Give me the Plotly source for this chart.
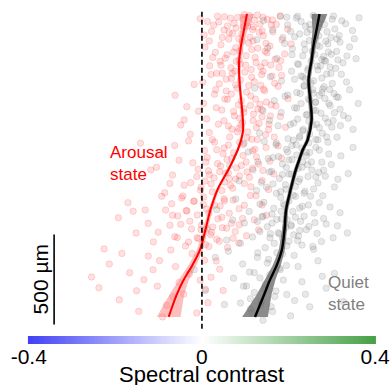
import numpy as np
import plotly.graph_objects as go

# ---------------- data ----------------
# scatter: (spectral contrast, depth in µm)
arousal_points = [
    (0.013, 41), (0.036, 12), (0.059, 66), (0.082, 19), (0.107, 47), (0.128, 6), (0.151, 29), (0.172, 58),
    (0.022, 97), (0.047, 131), (0.071, 109), (0.093, 152), (0.117, 86), (0.142, 121), (0.164, 99), (0.185, 143),
    (0.007, 184), (0.031, 213), (0.054, 246), (0.078, 187), (0.102, 232), (0.125, 269), (0.146, 207), (0.169, 252),
    (0.191, 222), (0.018, 288), (0.042, 263), (0.067, 299), (0.088, 278), (0.114, 309), (0.136, 294), (0.159, 283),
    (0.178, 297), (-0.004, 26), (0.044, 171), (0.079, 78), (0.098, 3), (0.115, 197), (0.148, 163), (0.062, 139),
    (0.027, 62), (0.134, 57), (0.086, 256), (0.121, 34), (0.066, 23), (0.157, 178), (0.005, 117), (0.198, 84),
    (0.051, 89), (0.206, 166), (0.092, 111), (0.111, 129), (0.139, 94), (0.073, 211), (0.025, 241), (0.163, 33),
    (0.181, 10), (0.105, 68), (0.039, 44),
    (-0.062, 452), (-0.041, 588), (-0.018, 391), (0.004, 497), (0.021, 336), (0.038, 612), (0.056, 428), (0.073, 541),
    (0.089, 367), (0.106, 655), (0.124, 473), (0.141, 318), (0.158, 566), (0.176, 402), (0.193, 629), (-0.027, 668),
    (0.011, 583), (0.029, 446), (0.047, 329), (0.064, 683), (0.081, 412), (0.097, 525), (0.115, 351), (0.132, 607),
    (0.149, 489), (0.167, 684), (0.184, 341), (-0.008, 540), (0.033, 521), (0.051, 593), (0.068, 358), (0.085, 636),
    (0.103, 434), (0.119, 556), (0.136, 396), (0.154, 642), (0.171, 511), (0.002, 379), (0.017, 659), (0.059, 474),
    (0.094, 603), (0.128, 697), (0.145, 426), (0.181, 570), (0.112, 508), (-0.049, 617), (0.076, 318), (0.040, 388),
    (0.199, 471), (0.162, 345), (0.087, 579), (0.024, 698), (0.138, 532), (-0.035, 515), (0.069, 640),
    (-0.142, 718), (-0.118, 866), (-0.097, 773), (-0.074, 941), (-0.053, 812), (-0.031, 705), (-0.012, 903), (0.006, 759),
    (0.024, 988), (0.043, 845), (0.061, 728), (0.078, 917), (0.095, 786), (0.113, 960), (0.131, 834), (0.148, 742),
    (0.166, 889), (0.184, 801), (-0.086, 993), (-0.063, 731), (-0.021, 827), (0.015, 871), (0.034, 754), (0.052, 933),
    (0.069, 803), (0.087, 712), (0.104, 878), (0.122, 752), (0.139, 925), (0.157, 818), (-0.041, 951), (-0.003, 979),
    (0.071, 968), (0.117, 857), (0.049, 776), (0.091, 841), (0.154, 975), (-0.105, 852), (0.028, 910), (0.176, 733),
    (0.009, 822), (0.061, 882), (0.126, 794), (-0.068, 895), (0.098, 942),
    (-0.193, 1132), (-0.171, 1048), (-0.152, 1217), (-0.131, 1089), (-0.112, 1266), (-0.093, 1013), (-0.074, 1174), (-0.056, 1122),
    (-0.038, 1289), (-0.019, 1041), (-0.002, 1198), (0.016, 1106), (0.034, 1251), (0.051, 1027), (0.068, 1163), (0.086, 1082),
    (0.103, 1232), (0.121, 1143), (0.139, 1061), (-0.063, 1237), (-0.028, 1151), (0.008, 1281), (0.042, 1066), (0.077, 1209),
    (0.094, 1136), (0.112, 1008), (-0.084, 1089), (-0.047, 1022), (0.025, 1183), (0.059, 1297), (-0.011, 1243), (0.131, 1199),
    (0.072, 1034), (-0.124, 1163), (0.046, 1129), (-0.101, 1212), (0.003, 1057), (0.085, 1272), (-0.035, 1094), (0.149, 1118),
    (0.020, 1226), (-0.070, 1054), (0.057, 1190), (-0.159, 1096),
    (-0.255, 1461), (-0.238, 1521), (-0.214, 1389), (-0.191, 1588), (-0.167, 1437), (-0.146, 1652), (-0.124, 1345), (-0.103, 1512),
    (-0.082, 1618), (-0.061, 1403), (-0.042, 1556), (-0.023, 1331), (-0.004, 1479), (0.014, 1604), (0.033, 1372), (0.049, 1536),
    (-0.113, 1421), (-0.072, 1311), (-0.029, 1445), (0.006, 1368), (-0.151, 1537), (-0.091, 1683), (-0.053, 1492), (0.021, 1462),
    (-0.185, 1330), (-0.012, 1661), (0.041, 1418), (-0.134, 1476), (-0.066, 1571), (0.008, 1529), (-0.226, 1305), (-0.098, 1370),
    # denser core near the profile
    (0.052, 15), (0.074, 52), (0.097, 31), (0.119, 72), (0.141, 18), (0.063, 104), (0.085, 137), (0.108, 161),
    (0.129, 190), (0.150, 215), (0.058, 226), (0.079, 262), (0.101, 284), (0.123, 241), (0.145, 271), (0.034, 329),
    (0.056, 362), (0.078, 394), (0.099, 322), (0.121, 377), (0.142, 418), (0.068, 445), (0.091, 482), (0.113, 455),
    (0.134, 501), (0.046, 533), (0.075, 566), (0.097, 547), (0.118, 592), (0.139, 571), (0.061, 622), (0.082, 654),
    (0.104, 688), (0.126, 631), (0.147, 671), (0.110, 9), (0.132, 101), (0.088, 205), (0.070, 331), (0.108, 397),
    (0.053, 472), (0.129, 528), (0.090, 617), (0.115, 696), (0.160, 60), (0.168, 385), (0.017, 150), (0.160, 505),
    (0.032, 420), (0.096, 71), (0.044, 285), (0.182, 260), (0.118, 150), (0.138, 336), (0.084, 506), (0.155, 612),
    (0.029, 712), (0.051, 744), (0.073, 771), (0.095, 725), (0.117, 760), (0.012, 797), (0.036, 831), (0.058, 808),
    (0.080, 855), (0.102, 822), (-0.009, 863), (0.017, 893), (0.041, 876), (0.063, 915), (0.087, 899), (-0.026, 937),
    (-0.002, 962), (0.021, 944), (0.046, 981), (0.066, 952), (-0.044, 1011), (-0.018, 1039), (0.004, 1016), (0.029, 1062),
    (0.052, 1038), (-0.036, 1092), (-0.011, 1117), (0.011, 1084), (0.037, 1138), (0.063, 1107), (-0.049, 1168), (-0.024, 1194),
    (-0.001, 1172), (0.022, 1213), (0.047, 1187), (-0.057, 1242), (-0.031, 1267), (-0.008, 1248), (0.016, 1291), (0.040, 1262),
    (0.098, 1062), (0.086, 1171), (0.110, 907), (0.125, 1010), (-0.068, 1118), (0.072, 1246), (0.141, 869), (0.007, 928),
    (0.055, 884),
]

quiet_points = [
    (0.142, 36), (0.163, 88), (0.181, 14), (0.198, 61), (0.214, 127), (0.229, 42), (0.243, 103), (0.257, 8),
    (0.271, 76), (0.286, 151), (0.301, 29), (0.317, 119), (0.332, 54), (0.348, 92), (0.363, 21),
    (0.152, 189), (0.173, 247), (0.191, 164), (0.208, 226), (0.223, 281), (0.238, 198), (0.252, 262), (0.266, 174),
    (0.281, 236), (0.296, 295), (0.311, 208), (0.326, 271), (0.341, 183), (0.356, 248),
    (0.221, 12), (0.249, 58), (0.263, 139), (0.278, 27), (0.292, 211), (0.307, 83), (0.236, 166), (0.274, 288),
    (0.319, 156), (0.261, 226), (0.289, 98), (0.205, 97), (0.335, 233), (0.246, 301), (0.298, 131), (0.283, 259),
    (0.187, 131), (0.269, 45), (0.314, 255), (0.127, 142), (0.352, 137),
    (0.122, 412), (0.141, 538), (0.158, 349), (0.176, 621), (0.192, 457), (0.207, 318), (0.221, 584), (0.236, 401),
    (0.249, 667), (0.263, 489), (0.277, 356), (0.291, 603), (0.305, 442), (0.319, 529), (0.334, 378), (0.349, 641),
    (0.361, 497), (0.133, 661), (0.167, 481), (0.184, 372), (0.199, 693), (0.214, 521), (0.229, 344), (0.243, 558),
    (0.256, 421), (0.271, 632), (0.284, 469), (0.298, 331), (0.312, 685), (0.327, 564), (0.341, 421),
    (0.219, 436), (0.233, 649), (0.258, 533), (0.268, 311), (0.282, 404), (0.246, 472), (0.303, 592), (0.263, 697),
    (0.275, 551), (0.288, 683), (0.239, 361), (0.322, 335), (0.204, 614), (0.252, 383), (0.296, 509), (0.311, 461),
    (0.226, 678), (0.338, 579), (0.156, 591), (0.277, 437), (0.183, 547), (0.265, 612), (0.229, 497),
    (0.064, 843), (0.086, 927), (0.107, 766), (0.126, 981), (0.144, 708), (0.161, 874), (0.177, 792), (0.193, 949),
    (0.208, 731), (0.222, 858), (0.236, 996), (0.249, 769), (0.263, 904), (0.277, 823), (0.291, 712), (0.306, 961),
    (0.321, 788), (0.338, 886), (0.349, 741), (0.097, 718), (0.118, 867), (0.137, 935), (0.153, 803), (0.171, 726),
    (0.186, 892), (0.201, 811), (0.216, 958), (0.231, 745), (0.244, 838), (0.258, 972), (0.271, 756), (0.285, 901),
    (0.299, 836), (0.314, 918), (0.195, 853), (0.211, 701), (0.226, 917), (0.241, 788), (0.254, 867), (0.219, 783),
    (0.182, 986), (0.268, 939), (0.233, 822), (0.206, 889), (0.247, 715), (0.164, 944), (0.281, 868), (0.129, 821),
    (0.198, 766), (0.293, 778),
    (0.012, 1193), (0.034, 1087), (0.057, 1256), (0.078, 1028), (0.098, 1161), (0.117, 1239), (0.134, 1056), (0.151, 1182),
    (0.167, 1274), (0.182, 1019), (0.197, 1143), (0.212, 1227), (0.226, 1078), (0.241, 1198), (0.256, 1291), (0.271, 1048),
    (0.287, 1167), (0.303, 1243), (0.319, 1104), (0.336, 1216), (0.089, 1274), (0.109, 1097), (0.128, 1153), (0.146, 1298),
    (0.162, 1112), (0.176, 1215), (0.191, 1063), (0.206, 1171), (0.221, 1259), (0.236, 1123), (0.251, 1012), (0.266, 1219),
    (0.281, 1136), (0.296, 1072), (0.313, 1177), (0.186, 1247), (0.201, 1039), (0.216, 1129), (0.231, 1284), (0.173, 1141),
    (0.246, 1061), (0.158, 1221), (0.261, 1159), (0.194, 1186), (0.211, 1007), (0.141, 1124), (0.276, 1264), (0.226, 1203),
    (0.071, 1144), (0.183, 1096),
    (-0.018, 1421), (0.008, 1536), (0.031, 1352), (0.052, 1614), (0.073, 1468), (0.094, 1389), (0.112, 1582), (0.129, 1327),
    (0.146, 1501), (0.163, 1653), (0.179, 1412), (0.196, 1559), (0.213, 1341), (0.231, 1488), (0.249, 1627), (0.268, 1371),
    (0.287, 1523), (0.306, 1441), (0.327, 1598), (0.061, 1318), (0.103, 1511), (0.121, 1437), (0.138, 1596), (0.154, 1363),
    (0.171, 1539), (0.188, 1478), (0.205, 1677), (0.222, 1403), (0.239, 1557), (0.258, 1307), (0.278, 1457), (0.141, 1701),
    (0.186, 1334), (0.116, 1662), (0.214, 1592),
    # denser core near the profile
    (0.218, 22), (0.239, 67), (0.261, 16), (0.283, 58), (0.304, 11), (0.226, 111), (0.248, 147), (0.270, 121),
    (0.291, 166), (0.312, 139), (0.209, 193), (0.233, 232), (0.255, 207), (0.277, 252), (0.299, 224), (0.221, 276),
    (0.244, 312), (0.266, 289), (0.288, 334), (0.309, 302), (0.214, 362), (0.236, 398), (0.258, 371), (0.279, 417),
    (0.301, 386), (0.227, 441), (0.249, 478), (0.271, 452), (0.293, 497), (0.315, 463), (0.219, 523), (0.241, 561),
    (0.263, 537), (0.285, 579), (0.306, 548), (0.212, 606), (0.234, 641), (0.256, 617), (0.278, 662), (0.300, 629),
    (0.225, 687), (0.268, 699), (0.251, 86), (0.233, 348), (0.286, 262), (0.247, 595), (0.295, 420), (0.262, 491),
    (0.323, 38), (0.198, 450), (0.320, 620), (0.196, 18), (0.272, 180), (0.257, 440),
    (0.172, 716), (0.195, 752), (0.218, 727), (0.241, 769), (0.263, 741), (0.164, 797), (0.186, 833), (0.208, 809),
    (0.231, 851), (0.253, 822), (0.156, 878), (0.179, 914), (0.201, 889), (0.223, 931), (0.245, 903), (0.149, 962),
    (0.172, 996), (0.194, 973), (0.216, 1013), (0.238, 985), (0.143, 1046), (0.166, 1079), (0.188, 1055), (0.210, 1097),
    (0.232, 1068), (0.139, 1127), (0.162, 1162), (0.184, 1138), (0.206, 1178), (0.228, 1152), (0.134, 1209), (0.157, 1243),
    (0.179, 1221), (0.201, 1262), (0.223, 1234), (0.247, 1180), (0.259, 1106), (0.196, 1289), (0.270, 880), (0.279, 1010),
    (0.128, 1352), (0.151, 1384), (0.173, 1326), (0.195, 1397), (0.110, 1434), (0.134, 1466), (0.157, 1448), (0.181, 1421),
    (0.096, 1512), (0.121, 1547), (0.145, 1528), (0.168, 1569), (0.089, 1606), (0.112, 1638), (0.136, 1614), (0.160, 1626),
]

# smoothed depth profiles (depth µm, mean contrast, CI half-width)
arousal_depth = [0, 89, 172, 256, 339, 422, 533, 644, 700, 756, 811, 867, 978, 1089, 1200, 1311, 1394, 1478, 1561, 1683]
arousal_mean = [0.104, 0.097, 0.0905, 0.086, 0.086, 0.0883, 0.0928, 0.0951, 0.0905, 0.0825, 0.0722, 0.0607,
                0.0355, 0.0195, 0.008, -0.0046, -0.0218, -0.0424, -0.0585, -0.0768]
arousal_ci = [0.017, 0.008, 0.0057, 0.0046, 0.0034, 0.0034, 0.0034, 0.0034, 0.0034, 0.0034, 0.0034, 0.0034,
              0.0034, 0.0046, 0.0057, 0.0069, 0.0092, 0.0120, 0.0172, 0.0275]

quiet_depth = [0, 89, 172, 256, 367, 478, 589, 700, 756, 811, 867, 978, 1089, 1200, 1311, 1394, 1478, 1561, 1683]
quiet_mean = [0.2716, 0.2647, 0.2579, 0.2533, 0.2464, 0.2503, 0.2533, 0.2441, 0.2327, 0.2246, 0.2166, 0.2045,
              0.1944, 0.1907, 0.1845, 0.1731, 0.157, 0.1433, 0.1226]
quiet_ci = [0.0183, 0.0092, 0.0057, 0.0046, 0.0046, 0.0046, 0.0046, 0.0046, 0.0046, 0.0046, 0.0046, 0.0046,
            0.0046, 0.0057, 0.0069, 0.0092, 0.0126, 0.0172, 0.0298]

colorbar_ticks = [-0.4, 0, 0.4]
colorbar_labels = ["-0.4", "0", "0.4"]
scale_bar_um = 500

# ---------------- figure ----------------
FONT = "Liberation Sans, Arial, sans-serif"
XR = [-0.4665, 0.4275]
YR = [2061.1, -77.8]

fig = go.Figure()

ax, ay = zip(*arousal_points)
qx, qy = zip(*quiet_points)

fig.add_trace(go.Scatter(x=ax, y=ay, mode="markers",
                         marker=dict(size=6.5, color="rgba(255,0,0,0.12)",
                                     line=dict(color="rgba(255,0,0,0.17)", width=0.8)),
                         hoverinfo="skip"))
fig.add_trace(go.Scatter(x=qx, y=qy, mode="markers",
                         marker=dict(size=6.5, color="rgba(90,90,90,0.14)",
                                     line=dict(color="rgba(90,90,90,0.18)", width=0.8)),
                         hoverinfo="skip"))


def band(depth, mean, ci, color):
    lo = [m - c for m, c in zip(mean, ci)]
    hi = [m + c for m, c in zip(mean, ci)]
    return go.Scatter(x=lo + hi[::-1], y=list(depth) + list(depth)[::-1], mode="lines",
                      fill="toself", fillcolor=color, line=dict(width=0),
                      hoverinfo="skip")


fig.add_trace(band(arousal_depth, arousal_mean, arousal_ci, "rgba(255,100,100,0.42)"))
fig.add_trace(band(quiet_depth, quiet_mean, quiet_ci, "rgba(100,100,100,0.75)"))
fig.add_trace(go.Scatter(x=arousal_mean, y=arousal_depth, mode="lines",
                         line=dict(color="#ff0000", width=2, shape="spline"), hoverinfo="skip"))
fig.add_trace(go.Scatter(x=quiet_mean, y=quiet_depth, mode="lines",
                         line=dict(color="#000000", width=2.4, shape="spline"), hoverinfo="skip"))

# colour bar strip
grad = np.linspace(colorbar_ticks[0], colorbar_ticks[-1], 201)
fig.add_trace(go.Heatmap(x=grad, y=[0], z=[grad], xaxis="x2", yaxis="y2", zsmooth="best",
                         colorscale=[[0, "rgb(66,66,245)"], [0.5, "rgb(255,255,255)"], [1, "rgb(70,160,70)"]],
                         zmin=-0.4, zmax=0.4, showscale=False, hoverinfo="skip"))

# zero line
fig.add_shape(type="line", x0=0, x1=0, y0=-12, y1=1758, xref="x", yref="y",
              line=dict(color="black", width=1.6, dash="5px,3px"), layer="above")
# scale bar
sb_bottom = 1725
fig.add_shape(type="line", x0=-0.3415, x1=-0.3415, y0=sb_bottom - scale_bar_um, y1=sb_bottom,
              xref="x", yref="y", line=dict(color="black", width=1.6), layer="above")

fig.add_annotation(x=-0.372, y=sb_bottom - scale_bar_um / 2, xref="x", yref="y",
                   text=f"{scale_bar_um} µm", textangle=-90, showarrow=False,
                   font=dict(family=FONT, size=21, color="black"), xanchor="center", yanchor="middle")
fig.add_annotation(x=-0.2166, y=705, xref="x", yref="y", text="Arousal<br>state", showarrow=False,
                   align="left", xanchor="left", yanchor="top",
                   font=dict(family=FONT, size=17, color="#ff0000"))
fig.add_annotation(x=0.2877, y=1428, xref="x", yref="y", text="Quiet<br>state", showarrow=False,
                   align="left", xanchor="left", yanchor="top",
                   font=dict(family=FONT, size=17, color="#808080"))
fig.add_annotation(x=0.0, y=0, xref="x2", yref="paper", text="Spectral contrast", showarrow=False,
                   xanchor="center", yanchor="top", yshift=25,
                   font=dict(family=FONT, size=22, color="black"))

fig.update_layout(
    width=390, height=385, margin=dict(l=0, r=0, t=0, b=0),
    paper_bgcolor="white", plot_bgcolor="rgba(0,0,0,0)", showlegend=False,
    xaxis=dict(range=XR, visible=False, domain=[0, 1]),
    yaxis=dict(range=YR, visible=False, domain=[0, 1]),
    xaxis2=dict(range=XR, domain=[0, 1], anchor="y2", showgrid=False, zeroline=False, showline=False,
                ticks="", tickvals=colorbar_ticks, ticktext=colorbar_labels, ticklabeloverflow="allow",
                ticklabelstandoff=-2,
                tickfont=dict(family=FONT, size=21, color="black")),
    yaxis2=dict(range=[-0.5, 0.5], domain=[0.1065, 0.1273], visible=False),
)

fig.write_html("out.html")
